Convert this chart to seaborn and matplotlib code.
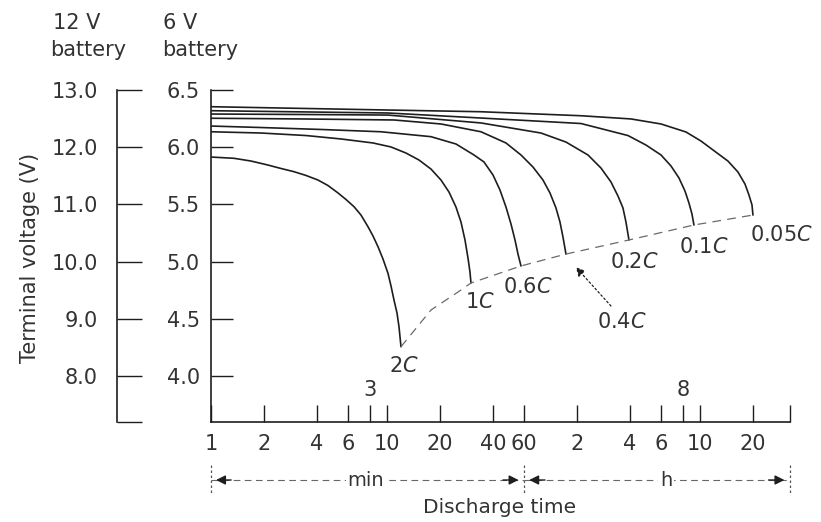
import matplotlib
matplotlib.use("Agg")
import numpy as np
import pandas as pd
import matplotlib.pyplot as plt
import seaborn as sns
from matplotlib.ticker import FixedLocator, FixedFormatter, NullLocator

# ---------------- data (discharge time in minutes, 6 V battery voltage) ----------------
rates = ["2C", "1C", "0.6C", "0.4C", "0.2C", "0.1C", "0.05C"]

t_2c = [1, 1.351, 1.688, 2.108, 2.499, 2.962, 3.466, 4.055, 4.622, 5.268, 5.848, 6.494,
        7.116, 7.799, 8.328, 8.890, 9.490, 10.13, 10.54, 10.96, 11.40, 11.70, 12.01]
v_2c = [5.914, 5.903, 5.879, 5.844, 5.814, 5.786, 5.753, 5.713, 5.665, 5.600, 5.543, 5.480,
        5.407, 5.305, 5.224, 5.130, 5.023, 4.898, 4.787, 4.664, 4.551, 4.431, 4.256]

t_1c = [1, 1.923, 3.466, 5.478, 8.328, 10.54, 12.82, 15.20, 17.78, 20.27, 22.51, 24.66,
        26.33, 27.75, 28.86, 29.62, 30.01]
v_1c = [6.135, 6.124, 6.102, 6.072, 6.037, 6.002, 5.949, 5.888, 5.809, 5.713, 5.608, 5.477,
        5.346, 5.189, 5.031, 4.909, 4.813]

t_06c = [1, 1.923, 4.217, 9.245, 17.78, 24.66, 31.21, 35.57, 40.03, 43.85, 47.44, 50.65,
         53.38, 55.51, 57.73]
v_06c = [6.185, 6.172, 6.155, 6.135, 6.092, 6.028, 5.932, 5.871, 5.757, 5.626, 5.477, 5.329,
         5.189, 5.066, 4.962]

t_04c = [1, 3.246, 10.96, 20.27, 34.20, 47.44, 57.73, 67.53, 76.98, 84.36, 91.25, 96.16,
         100.0, 104.0]
v_04c = [6.253, 6.247, 6.238, 6.203, 6.135, 6.037, 5.932, 5.827, 5.713, 5.600, 5.469, 5.346,
         5.215, 5.066]

t_02c = [1, 3.246, 10.13, 34.20, 74.99, 104.0, 138.7, 164.4, 187.4, 205.4, 219.2, 228.0, 237.1]
v_02c = [6.290, 6.286, 6.281, 6.212, 6.124, 6.045, 5.932, 5.818, 5.696, 5.573, 5.469, 5.346, 5.189]

t_01c = [1, 10.13, 34.20, 126.6, 234.0, 296.2, 360.6, 410.9, 456.2, 493.5, 519.9, 540.7, 555.0]
v_01c = [6.319, 6.299, 6.255, 6.207, 6.102, 6.019, 5.932, 5.836, 5.731, 5.617, 5.512, 5.416, 5.320]

t_005c = [1, 10.13, 34.20, 126.6, 243.4, 360.6, 500.0, 608.4, 711.7, 865.9, 987.0, 1082,
          1140, 1186, 1201]
v_005c = [6.354, 6.325, 6.310, 6.275, 6.247, 6.203, 6.133, 6.054, 5.976, 5.879, 5.783, 5.678,
          5.582, 5.495, 5.407]

# end-of-discharge (cut-off) line
t_cut = [12.01, 17.78, 25.31, 30.01, 57.73, 104.0, 237.1, 555.0, 1201]
v_cut = [4.256, 4.577, 4.734, 4.813, 4.962, 5.066, 5.189, 5.320, 5.407]

curve_t = [t_2c, t_1c, t_06c, t_04c, t_02c, t_01c, t_005c]
curve_v = [v_2c, v_1c, v_06c, v_04c, v_02c, v_01c, v_005c]

y6_ticks = [4.0, 4.5, 5.0, 5.5, 6.0, 6.5]
y12_ticks = [8.0, 9.0, 10.0, 11.0, 12.0, 13.0]
x_ticks = [1, 2, 4, 6, 8, 10, 20, 40, 60, 120, 240, 360, 480, 600, 1200]
x_labels = ["1", "2", "4", "6", "", "10", "20", "40", "60", "2", "4", "6", "", "10", "20"]

# ---------------- style ----------------
sns.set_theme(style="white")
plt.rcParams["font.family"] = ["DejaVu Sans"]
plt.rcParams["mathtext.fontset"] = "dejavusans"

INK = "#1e1e1e"
TXT = "#333333"
FS = 15

fig = plt.figure(figsize=(8.21, 5.22), dpi=100)
ax = fig.add_axes([211 / 821, 100 / 522, 579 / 821, 332 / 522])

# curves
for rate, tt, vv in zip(rates, curve_t, curve_v):
    df = pd.DataFrame({"t": tt, "V": vv})
    sns.lineplot(data=df, x="t", y="V", ax=ax, color=INK, lw=1.2,
                 estimator=None, sort=False, legend=False)

cut = pd.DataFrame({"t": t_cut, "V": v_cut})
sns.lineplot(data=cut, x="t", y="V", ax=ax, color="#6a6a6a", lw=0.9,
             estimator=None, sort=False, legend=False, linestyle=(0, (7, 5)))

ax.set_xscale("log")
ax.set_xlim(1, 1950)
ax.set_ylim(3.598, 6.5)
ax.set_xlabel("")
ax.set_ylabel("")

for s in ["top", "right"]:
    ax.spines[s].set_visible(False)
for s in ["left", "bottom"]:
    ax.spines[s].set_color(INK)
    ax.spines[s].set_linewidth(1.2)

ax.xaxis.set_major_locator(FixedLocator(x_ticks + [1950]))
ax.xaxis.set_major_formatter(FixedFormatter(x_labels + [""]))
ax.xaxis.set_minor_locator(NullLocator())
ax.tick_params(axis="x", direction="in", length=12, width=1.0, pad=9,
               color=INK, labelcolor=TXT, labelsize=FS, bottom=True)

ax.set_yticks(y6_ticks)
ax.set_yticklabels([f"{v:.1f}" for v in y6_ticks])
ax.tick_params(axis="y", direction="in", length=16, width=1.0, pad=8,
               color=INK, labelcolor=TXT, labelsize=FS, left=True)

# 12 V battery scale
sec = ax.secondary_yaxis(-0.1623, functions=(lambda v: 2 * v, lambda v: v / 2))
sec.set_yticks(y12_ticks + [7.196])
sec.set_yticklabels([f"{v:.1f}" for v in y12_ticks] + [""])
sec.spines["left"].set_color(INK)
sec.spines["left"].set_linewidth(1.2)
sec.tick_params(axis="y", direction="in", length=18, width=1.0, pad=14,
                color=INK, labelcolor=TXT, labelsize=FS)

# curve labels
label_pos = [(12.5, 4.087), (33.8, 4.647), (63.3, 4.778), (216, 4.472),
             (253, 4.997), (632, 5.128), (1755, 5.232)]
for rate, (lx, ly) in zip(rates, label_pos):
    txt = rate[:-1] + r"$C$"
    ax.text(lx, ly, txt, ha="center", va="center", fontsize=FS, color=TXT)

ax.annotate("", xy=(115.5, 4.97), xytext=(192, 4.594),
            arrowprops=dict(arrowstyle="-|>", color=INK, lw=0.9,
                            linestyle=(0, (1.5, 2)), mutation_scale=13))

# numbers above the axis
trans = ax.get_xaxis_transform()
ax.text(8, 0.096, "3", transform=trans, ha="center", va="center", fontsize=FS, color=TXT)
ax.text(480, 0.096, "8", transform=trans, ha="center", va="center", fontsize=FS, color=TXT)

# min / h spans under the axis
ya = -0.1747
for xb in [1, 60, 1950]:
    ax.plot([xb, xb], [-0.13, -0.215], transform=trans, clip_on=False,
            color="#555555", lw=0.9, ls=(0, (2, 2)))
ax.plot([1, 60], [ya, ya], transform=trans, clip_on=False, color="#666666",
        lw=0.8, ls=(0, (6, 4)))
ax.plot([60, 1950], [ya, ya], transform=trans, clip_on=False, color="#666666",
        lw=0.8, ls=(0, (6, 4)))
for tip, tail in [(1.03, 1.35), (58, 44), (62, 82), (1880, 1420)]:
    ax.annotate("", xy=(tip, ya), xycoords=trans, xytext=(tail, ya), textcoords=trans,
                arrowprops=dict(arrowstyle="-|>", color=INK, lw=1.0, mutation_scale=14))
ax.text(7.6, ya, "min", transform=trans, ha="center", va="center", fontsize=FS - 1,
        color=TXT, bbox=dict(facecolor="white", edgecolor="none", pad=1.5))
ax.text(385, ya, "h", transform=trans, ha="center", va="center", fontsize=FS - 1,
        color=TXT, bbox=dict(facecolor="white", edgecolor="none", pad=1.5))
ax.text(0.499, -0.259, "Discharge time", transform=ax.transAxes, ha="center",
        va="center", fontsize=FS - 0.5, color=TXT)

# axis titles
fig.text(30 / 821, 1 - 258 / 522, "Terminal voltage (V)", rotation=90, ha="center",
         va="center", fontsize=FS, color=TXT)
fig.text(53 / 821, 1 - 23 / 522, "12 V", ha="left", va="center", fontsize=FS, color=TXT)
fig.text(50 / 821, 1 - 50 / 522, "battery", ha="left", va="center", fontsize=FS, color=TXT)
fig.text(163 / 821, 1 - 23 / 522, "6 V", ha="left", va="center", fontsize=FS, color=TXT)
fig.text(162 / 821, 1 - 50 / 522, "battery", ha="left", va="center", fontsize=FS, color=TXT)

fig.savefig("out.png", dpi=100, facecolor="white")
